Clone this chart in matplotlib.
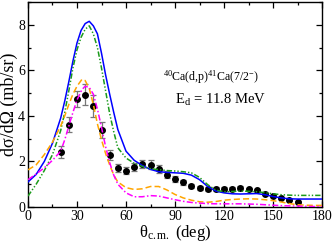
import matplotlib
matplotlib.use("Agg")
import matplotlib.pyplot as plt
from matplotlib.ticker import MultipleLocator

plt.rcParams['font.family'] = ['Liberation Serif', 'DejaVu Serif']
plt.rcParams['mathtext.fontset'] = 'custom'
plt.rcParams['mathtext.rm'] = 'Liberation Serif'
plt.rcParams['mathtext.it'] = 'Liberation Serif:italic'

# experimental data
theta_exp = [20, 25, 30, 35, 40, 45, 50, 55, 60, 65, 70, 75, 80, 85, 90, 95, 100,
             105, 110, 115, 120, 125, 130, 135, 140, 145, 150, 155, 160, 165]
xs_exp = [2.42, 3.62, 4.72, 4.93, 4.44, 3.36, 2.28, 1.72, 1.60, 1.76, 1.88, 1.86, 1.66,
          1.42, 1.23, 1.08, 0.92, 0.82, 0.79, 0.79, 0.80, 0.80, 0.83, 0.77, 0.73, 0.58,
          0.48, 0.38, 0.31, 0.23]
err_exp = [0.25, 0.33, 0.35, 0.45, 0.47, 0.35, 0.23, 0.18, 0.17, 0.18, 0.19, 0.19, 0.17,
           0.14, 0.12, 0.11, 0.09, 0.08, 0.08, 0.08, 0.08, 0.08, 0.08, 0.08, 0.07, 0.06,
           0.05, 0.04, 0.03, 0.02]

# blue solid
theta_blue = [0, 5, 10, 15, 20, 22.5, 25, 27.5, 30, 32.5, 35, 37.5, 40, 42.5, 45, 47.5, 50,
              52.5, 55, 60, 65, 70, 75, 80, 85, 90, 95, 100, 105, 110, 115, 120, 125, 130,
              135, 140, 145, 150, 155, 160, 165, 170, 175, 180]
xs_blue = [1.1, 1.43, 2.0, 2.8, 3.9, 4.65, 5.5, 6.4, 7.2, 7.75, 8.05, 8.15, 7.95, 7.6, 6.75,
           5.8, 4.95, 4.15, 3.4, 2.45, 2.05, 1.82, 1.65, 1.55, 1.52, 1.5, 1.48, 1.4, 1.2,
           0.9, 0.7, 0.62, 0.58, 0.57, 0.58, 0.59, 0.54, 0.46, 0.4, 0.36, 0.35, 0.35, 0.35,
           0.35]

# green dash-dot-dot
theta_green = theta_blue
xs_green = [0.48, 1.0, 1.6, 2.3, 3.35, 4.15, 5.1, 6.1, 6.9, 7.45, 7.8, 7.95, 7.6, 7.0, 6.1,
            5.1, 4.1, 3.3, 2.6, 2.15, 1.92, 1.78, 1.68, 1.64, 1.6, 1.58, 1.55, 1.5, 1.3,
            0.98, 0.74, 0.67, 0.68, 0.7, 0.69, 0.67, 0.63, 0.58, 0.54, 0.52, 0.51, 0.51,
            0.51, 0.51]

# orange dashed
theta_orange = [0, 5, 10, 15, 20, 22.5, 25, 27.5, 30, 33, 35, 37.5, 40, 42.5, 45, 47.5, 50,
                52.5, 55, 60, 65, 70, 75, 80, 85, 90, 95, 100, 105, 110, 115, 120, 125,
                130, 135, 140, 145, 150, 155, 160, 165, 170, 175, 180]
xs_orange = [1.63, 1.85, 2.3, 2.85, 3.55, 4.0, 4.5, 4.95, 5.3, 5.6, 5.55, 5.2, 4.5, 3.65,
             2.95, 2.35, 1.85, 1.4, 1.1, 0.85, 0.77, 0.8, 0.9, 0.9, 0.75, 0.55, 0.4, 0.3,
             0.23, 0.21, 0.24, 0.3, 0.33, 0.35, 0.36, 0.35, 0.32, 0.28, 0.22, 0.15, 0.1,
             0.08, 0.07, 0.07]

# magenta dash-dot
theta_mag = theta_orange
xs_mag = [1.2, 1.45, 1.72, 2.05, 2.45, 2.95, 3.55, 4.15, 4.7, 5.15, 5.3, 5.25, 4.95, 4.3,
          3.5, 2.65, 1.95, 1.4, 1.0, 0.62, 0.45, 0.45, 0.5, 0.48, 0.4, 0.32, 0.25, 0.2,
          0.17, 0.15, 0.14, 0.14, 0.14, 0.14, 0.13, 0.12, 0.1, 0.08, 0.06, 0.05, 0.04,
          0.03, 0.02, 0.02]

x_ticks = [0, 30, 60, 90, 120, 150, 180]
y_ticks = [0, 2, 4, 6, 8]

fig = plt.figure(figsize=(3.32, 2.42), dpi=100)
ax = fig.add_axes([0.0843, 0.1446, 0.8857, 0.8474])

ax.errorbar(theta_exp, xs_exp, yerr=err_exp, fmt='o', color='black', ms=4,
            ecolor='#777777', elinewidth=0.9, capsize=2.2, capthick=0.9, zorder=2)

ax.plot(theta_blue, xs_blue, color='#0000ff', lw=1.1, zorder=3)
ax.plot(theta_green, xs_green, color='#1a9a1a', lw=1.1, dashes=(3.5, 1.3, 0.9, 1.3, 0.9, 1.3), zorder=3)
ax.plot(theta_orange, xs_orange, color='#ffa500', lw=1.1, dashes=(4, 2), zorder=3)
ax.plot(theta_mag, xs_mag, color='#ff00ff', lw=1.1, dashes=(4, 1.5, 1, 1.5), zorder=3)

ax.set_xlim(0, 180)
ax.set_ylim(0, 9)
ax.set_xticks(x_ticks)
ax.set_yticks(y_ticks)
ax.xaxis.set_minor_locator(MultipleLocator(15))
ax.yaxis.set_minor_locator(MultipleLocator(1))
ax.tick_params(which='both', direction='in', top=True, right=True, labelsize=10, pad=2)
ax.tick_params(which='major', length=4.5, width=0.9)
ax.tick_params(which='minor', length=2.5, width=0.9)
for s in ax.spines.values():
    s.set_linewidth(1.0)

ax.set_xlabel('θ$_{\\mathrm{c.m.}}$ (deg)', fontsize=12, labelpad=0)
ax.set_ylabel('dσ/dΩ (mb/sr)', fontsize=13, labelpad=0)

ax.text(0.46, 0.635, r'$^{40}$Ca(d,p)$^{41}$Ca(7/2$^{-}$)', transform=ax.transAxes,
        fontsize=8.6, ha='left', va='center')
ax.text(0.50, 0.52, r'E$_{\mathrm{d}}$ = 11.8 MeV', transform=ax.transAxes,
        fontsize=10.5, ha='left', va='center')

fig.savefig('out.png', dpi=100)
